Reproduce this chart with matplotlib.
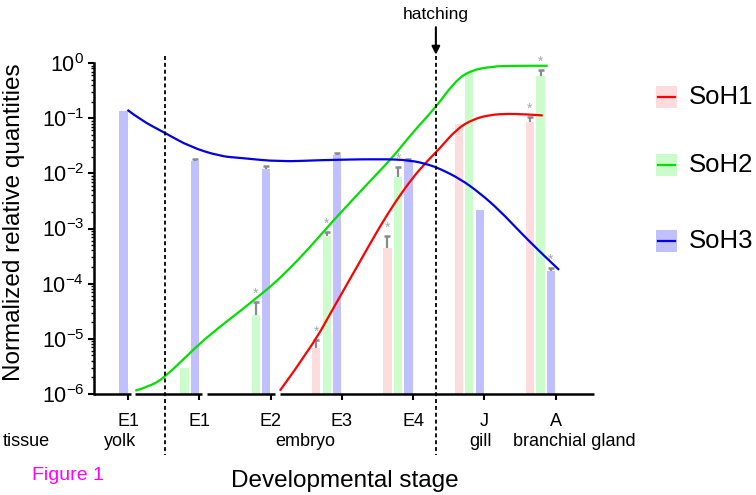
import numpy as np
import matplotlib.pyplot as plt
import matplotlib.transforms as mtransforms
from matplotlib.patches import Rectangle, PathPatch
from matplotlib.lines import Line2D
from matplotlib.path import Path

plt.rcParams['font.family'] = 'Liberation Sans'
plt.rcParams['mathtext.fontset'] = 'custom'
plt.rcParams['mathtext.rm'] = 'Liberation Sans'
plt.rcParams['mathtext.it'] = 'Liberation Sans:italic'

# categories
stages = ['E1', 'E1', 'E2', 'E3', 'E4', 'J', 'A']
tissues = ['yolk', 'embryo', 'gill', 'branchial gland']
tissue_x = [-0.12, 2.48, 4.95, 6.27]
dividers = [0.52, 4.32]

# bar values (nan = not detected)
nan = np.nan
soh1 = [nan, nan, nan, 6.9e-6, 4.5e-4, 0.078, 0.085]
soh2 = [nan, 3.0e-6, 2.7e-5, 7.4e-4, 8.6e-3, 0.69, 0.58]
soh3 = [0.135, 0.0167, 0.012, 0.0215, 0.0167, 0.0022, 1.7e-4]

# upper end of the error bars
soh1_err = [nan, nan, nan, 9.6e-6, 7.4e-4, nan, 0.105]
soh2_err = [nan, nan, 4.7e-5, 8.7e-4, 0.013, nan, 0.75]
soh3_err = [nan, 0.018, 0.0136, 0.0234, 0.018, nan, 1.94e-4]

# significance stars
soh1_star = [0, 0, 0, 1, 1, 0, 1]
soh2_star = [0, 0, 1, 1, 1, 0, 1]
soh3_star = [0, 0, 0, 0, 0, 0, 1]

# trend curves (x in stage units, log10 of quantity)
soh1_cx = [2.13, 2.58, 2.89, 3.21, 3.53, 3.77, 4.00, 4.19, 4.38, 4.61, 4.84, 5.08, 5.32, 5.57, 5.82]
soh1_cy = [-5.94, -5.14, -4.42, -3.70, -2.97, -2.48, -2.07, -1.79, -1.54, -1.20, -1.02, -0.94, -0.92, -0.93, -0.95]
soh2_cx = [0.10, 0.31, 0.52, 0.87, 1.15, 1.57, 1.78, 2.03, 2.27, 2.51, 2.89, 3.44, 3.72, 4.00, 4.32, 4.56, 4.76, 5.08, 5.50, 5.89]
soh2_cy = [-5.94, -5.86, -5.69, -5.25, -4.92, -4.50, -4.28, -4.02, -3.72, -3.40, -2.84, -2.08, -1.70, -1.25, -0.80, -0.38, -0.16, -0.06, -0.05, -0.05]
soh3_cx = [-0.01, 0.17, 0.52, 0.87, 1.29, 1.57, 2.13, 2.69, 3.53, 3.96, 4.24, 4.38, 4.66, 4.94, 5.22, 5.50, 5.78, 6.05]
soh3_cy = [-0.85, -1.03, -1.27, -1.52, -1.69, -1.72, -1.79, -1.76, -1.74, -1.76, -1.85, -1.92, -2.10, -2.36, -2.68, -3.06, -3.42, -3.75]

series = [
    ('SoH1', soh1, soh1_err, soh1_star, soh1_cx, soh1_cy, '#fcdcdc', '#ff0000', -0.36),
    ('SoH2', soh2, soh2_err, soh2_star, soh2_cx, soh2_cy, '#ccfccc', '#00e000', -0.21),
    ('SoH3', soh3, soh3_err, soh3_star, soh3_cx, soh3_cy, '#c0c0fc', '#0000e6', -0.065),
]


def smooth_path(px, py):
    # quadratic bezier along the read points (points act as control vertices)
    pts = np.column_stack([px, 10.0 ** np.array(py)])
    verts = [pts[0]]
    codes = [Path.MOVETO]
    for i in range(1, len(pts) - 1):
        xm = (pts[i][0] + pts[i + 1][0]) / 2
        ym = 10 ** ((np.log10(pts[i][1]) + np.log10(pts[i + 1][1])) / 2)
        verts += [pts[i], (xm, ym)]
        codes += [Path.CURVE3, Path.CURVE3]
    verts.append(pts[-1])
    codes.append(Path.LINETO)
    return Path(verts, codes)


fig = plt.figure(figsize=(7.56, 4.95), dpi=100)
ax = fig.add_axes([94 / 756, 1 - 394 / 495, 500 / 756, 331 / 495])
ax.set_yscale('log')
ymin, ymax = 1e-6, 1.0
ax.set_ylim(ymin, ymax)
ax.set_xlim(-0.48, 6.54)

x = np.arange(len(stages))
width = 0.115
for name, vals, errs, stars, cx, cy, bcol, lcol, off in series:
    v = np.array(vals, dtype=float)
    e = np.array(errs, dtype=float)
    ok = np.isfinite(v)
    ax.bar(x[ok] + off, v[ok] - ymin, width, bottom=ymin, color=bcol, zorder=1)
    ek = np.isfinite(e)
    ax.vlines(x[ek] + off, v[ek], e[ek], color='#8a8a8a', lw=1.6, zorder=2)
    ax.plot(x[ek] + off, e[ek], ls='none', marker='_', ms=4, mew=1.8,
            color='#8a8a8a', zorder=2)
    for i in range(len(stages)):
        if stars[i]:
            top = e[i] if np.isfinite(e[i]) else v[i]
            ax.annotate('*', (x[i] + off, top), xytext=(0, 1), textcoords='offset points',
                        ha='center', va='bottom', fontsize=10, color='#a8a8a8', zorder=3)
    ax.add_patch(PathPatch(smooth_path(cx, cy), fill=False, edgecolor=lcol, lw=1.6,
                           zorder=4, capstyle='butt'))

# axes styling
for s in ['top', 'right', 'bottom']:
    ax.spines[s].set_visible(False)
ax.spines['left'].set_linewidth(1.8)
ax.set_yticks([10.0 ** k for k in range(-6, 1)])
ax.set_yticklabels([r'$\mathregular{10^{%d}}$' % k for k in range(-6, 1)], fontsize=15.5)
ax.tick_params(axis='y', which='major', length=4, width=1.5, pad=3)
ax.tick_params(axis='y', which='minor', length=2.5, width=1.0)
ax.set_xticks(x)
ax.set_xticklabels(stages, fontsize=13)
ax.tick_params(axis='x', length=4, width=1.5, pad=10)

# broken x axis
trans = mtransforms.blended_transform_factory(ax.transData, ax.transAxes)
segments = [(-0.48, 0.04), (0.10, 1.04), (1.11, 2.06), (2.13, 6.54)]
for a, b in segments:
    ax.plot([a, b], [0, 0], color='black', lw=1.8, transform=trans, clip_on=False,
            solid_capstyle='butt', zorder=5)

for d in dividers:
    ax.plot([d, d], [1.02, -0.185], color='black', lw=1.3, ls=(0, (2.2, 1.6)),
            transform=trans, clip_on=False, zorder=5)

ax.annotate('hatching', xy=(dividers[1], 1.025), xycoords=trans,
            xytext=(dividers[1], 1.125), textcoords=trans, ha='center', va='bottom',
            fontsize=12.5,
            arrowprops=dict(arrowstyle='-|>', color='black', lw=1.5, mutation_scale=12,
                            shrinkA=2, shrinkB=0))

for t, tx in zip(tissues, tissue_x):
    ax.text(tx, -0.143, t, transform=trans, ha='center', va='center', fontsize=13)
fig.text(3 / 756, 1 - 441 / 495, 'tissue', ha='left', va='center', fontsize=13)
fig.text(32 / 756, 1 - 476 / 495, 'Figure 1', ha='left', va='center', fontsize=14,
         color='#ff00ff')
fig.text(345 / 756, 1 - 481 / 495, 'Developmental stage', ha='center', va='center',
         fontsize=17.5)
fig.text(14 / 756, 1 - 222 / 495, 'Normalized relative quantities', rotation=90,
         ha='center', va='center', fontsize=17.5)

# legend
for k, (name, vals, errs, stars, cx, cy, bcol, lcol, off) in enumerate(series):
    yc = [97, 165, 241][k]
    fig.add_artist(Rectangle((656 / 756, 1 - (yc + 11) / 495), 21 / 756, 22 / 495,
                             transform=fig.transFigure, color=bcol, lw=0))
    fig.add_artist(Line2D([658 / 756, 675 / 756], [1 - yc / 495] * 2, color=lcol, lw=1.6,
                          transform=fig.transFigure))
    fig.text(689 / 756, 1 - yc / 495, name, ha='left', va='center', fontsize=18.5)

fig.savefig('out.png', dpi=100)
